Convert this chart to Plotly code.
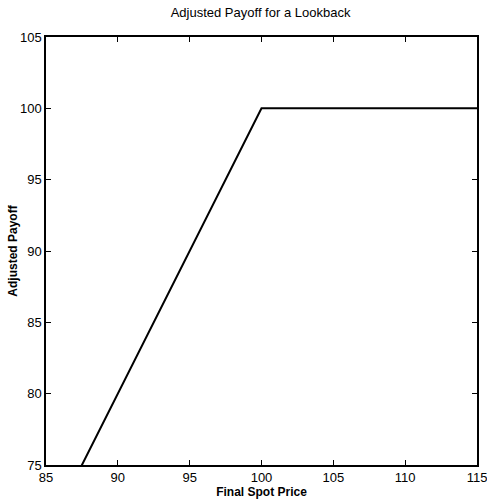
import plotly.graph_objects as go

# Final spot price vs adjusted payoff of a lookback option
spot = [85, 100, 115]
payoff = [70, 100, 100]

x_ticks = [85, 90, 95, 100, 105, 110, 115]
y_ticks = [75, 80, 85, 90, 95, 100, 105]

FONT = "Liberation Sans Narrow, Arial Narrow, Liberation Sans, Arial, sans-serif"

fig = go.Figure(
    go.Scatter(
        x=spot, y=payoff, mode="lines",
        line=dict(color="black", width=2),
        cliponaxis=True, showlegend=False,
    )
)

axis_common = dict(
    showgrid=False, zeroline=False,
    showline=True, linecolor="black", linewidth=1.5, mirror="allticks",
    ticks="inside", ticklen=5, tickcolor="black", tickwidth=1,
    ticklabeloverflow="allow",
    tickfont=dict(family=FONT, size=13, color="black"),
)

fig.update_xaxes(
    range=[85, 115], tickvals=x_ticks, ticktext=[str(v) for v in x_ticks],
    automargin=False,
    title=dict(text="<b>Final Spot Price</b>", standoff=0,
               font=dict(family=FONT, size=12, color="black")),
    **axis_common,
)
fig.update_yaxes(
    range=[75, 105], tickvals=y_ticks, ticktext=[str(v) for v in y_ticks],
    automargin=False,
    title=dict(text="<b>Adjusted Payoff</b>", standoff=0,
               font=dict(family=FONT, size=12, color="black")),
    **axis_common,
)

fig.update_layout(
    width=487, height=500,
    margin=dict(l=46, r=10, t=37, b=35),
    paper_bgcolor="white", plot_bgcolor="white",
    title=dict(text="Adjusted Payoff for a Lookback", x=0.535, xanchor="center",
               y=0.975, yanchor="middle",
               font=dict(family=FONT, size=13, color="black")),
)

fig.write_html("out.html")
